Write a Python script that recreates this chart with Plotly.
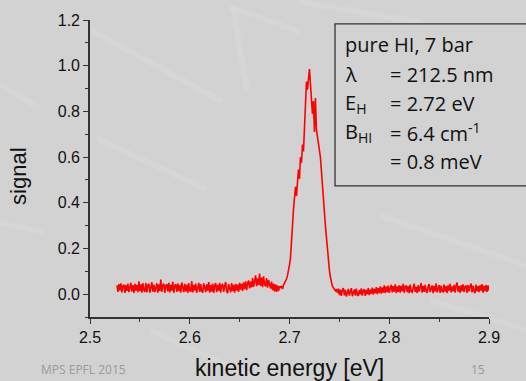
import numpy as np
import plotly.graph_objects as go

# ---- data ----
x_start = 2.527
x_step = 0.001

signal_a = [  # 2.527 - 2.650
    0.038, 0.010, 0.044, 0.016, 0.047, 0.008, 0.035, 0.042, 0.006, 0.040,
    0.014, 0.046, 0.009, 0.037, 0.050, 0.012, 0.039, 0.005, 0.045, 0.015,
    0.041, 0.009, 0.056, 0.013, 0.043, 0.007, 0.048, 0.017, 0.010, 0.049,
    0.008, 0.040, 0.045, 0.006, 0.036, 0.052, 0.011, 0.042, 0.009, 0.038,
    0.047, 0.007, 0.043, 0.014, 0.064, 0.010, 0.039, 0.046, 0.005, 0.037,
    0.044, 0.012, 0.050, 0.008, 0.041, 0.015, 0.054, 0.006, 0.038, 0.043,
    0.010, 0.047, 0.013, 0.040, 0.007, 0.051, 0.017, 0.009, 0.045, 0.012,
    0.042, 0.005, 0.048, 0.015, 0.011, 0.057, 0.008, 0.041, 0.016, 0.046,
    0.006, 0.039, 0.049, 0.010, 0.044, 0.013, 0.007, 0.047, 0.017, 0.009,
    0.043, 0.015, 0.053, 0.007, 0.040, 0.011, 0.046, 0.005, 0.038, 0.048,
    0.009, 0.041, 0.014, 0.050, 0.007, 0.039, 0.045, 0.010, 0.036, 0.053,
    0.012, 0.004, 0.044, 0.017, 0.008, 0.048, 0.013, 0.041, 0.007, 0.045,
    0.015, 0.042, 0.010, 0.049,
]
signal_b = [  # 2.651 - 2.690
    0.020, 0.045, 0.014, 0.052, 0.022, 0.056, 0.018, 0.048, 0.060, 0.025,
    0.055, 0.030, 0.070, 0.032, 0.066, 0.082, 0.035, 0.069, 0.040, 0.090,
    0.036, 0.073, 0.031, 0.078, 0.042, 0.034, 0.070, 0.028, 0.062, 0.035,
    0.024, 0.055, 0.017, 0.046, 0.012, 0.043, 0.010, 0.038, 0.014, 0.034,
]
signal_c = [  # 2.691 - 2.748 (peak)
    0.030, 0.036, 0.022, 0.040, 0.047, 0.055, 0.066, 0.082, 0.101, 0.128,
    0.160, 0.215, 0.300, 0.372, 0.410, 0.470, 0.430, 0.500, 0.545, 0.505,
    0.600, 0.575, 0.655, 0.625, 0.720, 0.800, 0.930, 0.895, 0.960, 0.985,
    0.920, 0.830, 0.790, 0.845, 0.710, 0.858, 0.720, 0.690, 0.655, 0.640,
    0.600, 0.540, 0.470, 0.420, 0.360, 0.300, 0.250, 0.190, 0.140, 0.105,
    0.075, 0.050, 0.035, 0.028, 0.020, 0.015, 0.022, 0.006,
]
signal_d = [  # 2.749 - 2.900
    0.024, -0.004, 0.020, -0.008, 0.018, 0.027, -0.005, 0.019, -0.010, 0.016,
    0.023, -0.006, 0.017, 0.026, -0.009, 0.015, 0.021, -0.007, 0.024, -0.002,
    -0.008, 0.018, -0.001, 0.025, -0.006, 0.016, 0.022, -0.008, 0.019, 0.000,
    0.027, -0.004, 0.020, 0.002, 0.029, -0.002, 0.023, 0.004, 0.031, 0.000,
    0.026, 0.005, 0.034, 0.002, 0.030, 0.007, 0.038, 0.004, 0.033, 0.009,
    0.037, 0.006, 0.032, 0.041, 0.008, 0.035, 0.011, 0.043, 0.005, 0.034,
    0.010, 0.039, 0.007, 0.036, 0.013, 0.045, 0.006, 0.033, 0.038, 0.009,
    0.035, 0.004, 0.042, 0.012, 0.008, 0.037, 0.046, 0.010, 0.032, 0.005,
    0.039, 0.011, 0.034, 0.049, 0.007, 0.036, 0.010, 0.041, 0.013, 0.006,
    0.035, 0.044, 0.009, 0.032, 0.038, 0.004, 0.036, 0.012, 0.047, 0.008,
    0.033, 0.040, 0.006, 0.037, 0.013, 0.010, 0.042, 0.011, 0.035, 0.005,
    0.038, 0.015, 0.045, 0.008, 0.034, 0.012, 0.041, 0.007, 0.036, 0.051,
    0.011, 0.035, 0.005, 0.039, 0.013, 0.043, 0.009, 0.033, 0.037, 0.006,
    0.040, 0.012, 0.034, 0.046, 0.008, 0.037, 0.014, 0.004, 0.042, 0.012,
    0.035, 0.009, 0.039, 0.015, 0.044, 0.007, 0.036, 0.013, 0.041, 0.010,
    0.038, 0.016,
]
signal = signal_a + signal_b + signal_c + signal_d
energy = np.round(x_start + x_step * np.arange(len(signal)), 4)

x_ticks = [2.5, 2.6, 2.7, 2.8, 2.9]
y_ticks = [0.0, 0.2, 0.4, 0.6, 0.8, 1.0, 1.2]

box_left = ["pure HI, 7 bar", "λ", "E<sub>H</sub>", "B<sub>HI</sub>", ""]
box_right = ["", "= 212.5 nm", "= 2.72 eV", "= 6.4 cm<sup>-1</sup>", "= 0.8 meV"]

# ---- layout geometry (pixels) ----
W, H = 526, 381
L, R, T, B = 90, 37, 18, 64
PW, PH = W - L - R, H - T - B


def px(xp):
    return (xp - L) / PW


def py(yp):
    return (H - B - yp) / PH


BG = "#d2d2d2"
fig = go.Figure()
fig.add_trace(go.Scatter(x=energy, y=signal, mode="lines",
                         line=dict(color="#ff0000", width=1.6),
                         showlegend=False, hoverinfo="skip"))

axis_common = dict(showline=True, linecolor="#333333", linewidth=1.6,
                   ticks="outside", ticklen=5, tickwidth=1.4, tickcolor="#333333",
                   showgrid=False, zeroline=False,
                   tickfont=dict(family="Liberation Sans, Arial", size=16, color="#111111"))

fig.update_xaxes(range=[2.5, 2.9], tickvals=x_ticks, tickformat=".1f",
                 minor=dict(ticks="outside", ticklen=3, tickwidth=1.2, tickcolor="#333333", dtick=0.05, tick0=2.5),
                 **axis_common)
fig.update_yaxes(range=[-0.1, 1.2], tickvals=y_ticks, tickformat=".1f",
                 minor=dict(ticks="outside", ticklen=3, tickwidth=1.2, tickcolor="#333333", dtick=0.1, tick0=0),
                 **axis_common)

# faint background streaks
streaks = [
    (90, 28, 222, 100), (97, 137, 205, 188), (233, 5, 247, 90), (230, 5, 300, 30),
    (0, 83, 40, 107), (0, 222, 45, 232), (380, 215, 526, 265), (430, 300, 526, 330),
    (150, 330, 260, 381), (300, 0, 420, 20),
]
shapes = []
for x0, y0, x1, y1 in streaks:
    shapes.append(dict(type="line", xref="paper", yref="paper", layer="below",
                       x0=px(x0), y0=py(y0), x1=px(x1), y1=py(y1),
                       line=dict(color="rgba(235,235,230,0.16)", width=6)))
# info box
shapes.append(dict(type="rect", xref="paper", yref="paper",
                   x0=px(335), x1=px(535), y0=py(185), y1=py(22),
                   line=dict(color="#333333", width=1.3), fillcolor="rgba(0,0,0,0)"))

annotations = [
    dict(text="kinetic energy [eV]", x=px(289), y=py(368), xref="paper", yref="paper",
         showarrow=False, xanchor="center", yanchor="middle",
         font=dict(family="Liberation Sans, Arial", size=23, color="#111111")),
    dict(text="signal", x=px(19), y=py(176), xref="paper", yref="paper", textangle=-90,
         showarrow=False, xanchor="center", yanchor="middle",
         font=dict(family="Liberation Sans, Arial", size=22, color="#111111")),
    dict(text="MPS EPFL 2015", x=px(83), y=py(370), xref="paper", yref="paper",
         showarrow=False, xanchor="center", yanchor="middle",
         font=dict(family="Open Sans", size=12, color="#9a9a9a")),
    dict(text="15", x=px(478), y=py(370), xref="paper", yref="paper",
         showarrow=False, xanchor="center", yanchor="middle",
         font=dict(family="Open Sans", size=12, color="#9a9a9a")),
]
line_centers = [43, 73, 102, 131, 160]
box_font = dict(family="Open Sans", size=20, color="#111111")
for txt, yc in zip(box_left, line_centers):
    if txt:
        annotations.append(dict(text=txt, x=px(343), y=py(yc), xref="paper", yref="paper",
                                showarrow=False, xanchor="left", yanchor="middle", font=box_font))
for txt, yc in zip(box_right, line_centers):
    if txt:
        annotations.append(dict(text=txt, x=px(388), y=py(yc), xref="paper", yref="paper",
                                showarrow=False, xanchor="left", yanchor="middle", font=box_font))

fig.update_layout(width=W, height=H, margin=dict(l=L, r=R, t=T, b=B, pad=0),
                  paper_bgcolor=BG, plot_bgcolor="rgba(0,0,0,0)",
                  shapes=shapes, annotations=annotations, showlegend=False)

fig.write_html("out.html")
